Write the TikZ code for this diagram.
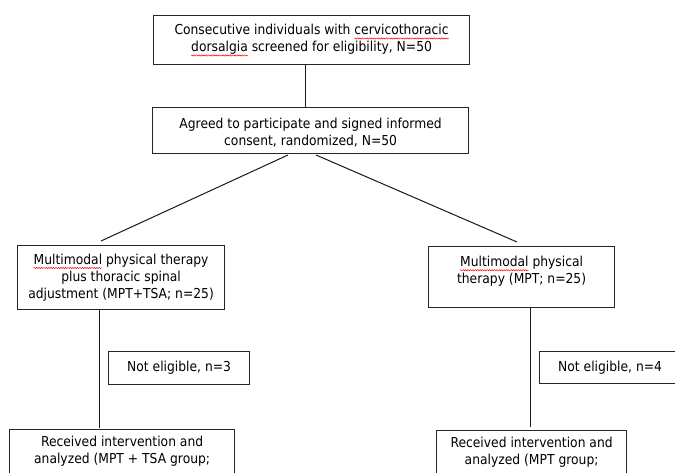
\documentclass[tikz,border=0pt]{standalone}
\usepackage{fontspec}
\setmainfont{DejaVu Sans}[FakeStretch=0.9]
\usetikzlibrary{calc,decorations.pathmorphing}
\newsavebox\sqbox
\newlength\sqw
\newcommand\spellerr[1]{\sbox\sqbox{#1}\setlength\sqw{\wd\sqbox}%
  \rlap{\tikz[baseline=0pt,x=1pt,y=1pt]{\path[use as bounding box] (0pt,0pt);
   \draw[red, line width=0.5pt, decorate, decoration={snake, amplitude=0.6pt, segment length=2.4pt}] (0pt,-3.6pt) -- (\sqw,-3.6pt);}}%
  \usebox\sqbox}
\tikzset{
  box/.style={draw=black!85, line width=1.2pt, inner sep=0pt, anchor=north west},
  txt/.style={align=center, inner sep=0pt, font=\fontsize{13.7}{17}\selectfont},
  conn/.style={draw=black!90, line width=1pt}
}
\begin{document}
\begin{tikzpicture}[x=1pt,y=-1pt]
\path[use as bounding box, fill=white] (0,0) rectangle (675,473);
\clip (0,0) rectangle (675,473);

% boxes
\node[box, minimum width=316pt, minimum height=49pt] (screen) at (153,15) {};
\node[txt] (screenT) at ([yshift=0.5pt]screen.center) {Consecutive individuals with \spellerr{cervicothoracic}\\\spellerr{dorsalgia} screened for eligibility, N=50};

\node[box, minimum width=316pt, minimum height=46pt] (randomized) at (152,107) {};
\node[txt] (randomizedT) at ([yshift=-1.5pt]randomized.center) {Agreed to participate and signed informed\\consent, randomized, N=50};

\node[box, minimum width=207pt, minimum height=64pt] (armA) at (17,245) {};
\node[txt] (armAT) at (armA.center) {\spellerr{Multimodal} physical therapy\\plus thoracic spinal\\adjustment (MPT+TSA; n=25)};

\node[box, minimum width=186pt, minimum height=61pt] (armB) at (428,246) {};
\node[txt, anchor=north] (armBT) at ([yshift=-10pt]armB.north) {\spellerr{Multimodal} physical\\therapy (MPT; n=25)};

\node[box, minimum width=141pt, minimum height=33pt] (exA) at (108,351) {};
\node[txt] (exAT) at (exA.center) {Not eligible, n=3};

\node[box, minimum width=141pt, minimum height=32pt] (exB) at (539,351) {};
\node[txt] (exBT) at (exB.center) {Not eligible, n=4};

\node[box, minimum width=225pt, minimum height=80pt] (recvA) at (9,429) {};
\node[txt, anchor=north] (recvAT) at ([yshift=-7pt]recvA.north) {Received intervention and\\analyzed (MPT + TSA group;};

\node[box, minimum width=190pt, minimum height=80pt] (recvB) at (436,430) {};
\node[txt, anchor=north] (recvBT) at ([yshift=-7pt]recvB.north) {Received intervention and\\analyzed (MPT group;};

% connector end points
\coordinate (vTop) at (305,0);
\coordinate (dLs) at (288,155);
\coordinate (dLe) at (101,241);
\coordinate (dRs) at (316,155);
\coordinate (dRe) at (517,242);
\coordinate (vA) at (99,0);
\coordinate (vB) at (530,0);

\draw[conn] (screen.south -| vTop) -- (randomized.north -| vTop);
\draw[conn] (dLs) -- (dLe);
\draw[conn] (dRs) -- (dRe);
\draw[conn] (armA.south -| vA) -- ([yshift=1pt]recvA.north -| vA);
\draw[conn] (armB.south -| vB) -- ([yshift=3pt]recvB.north -| vB);
\end{tikzpicture}
\end{document}
